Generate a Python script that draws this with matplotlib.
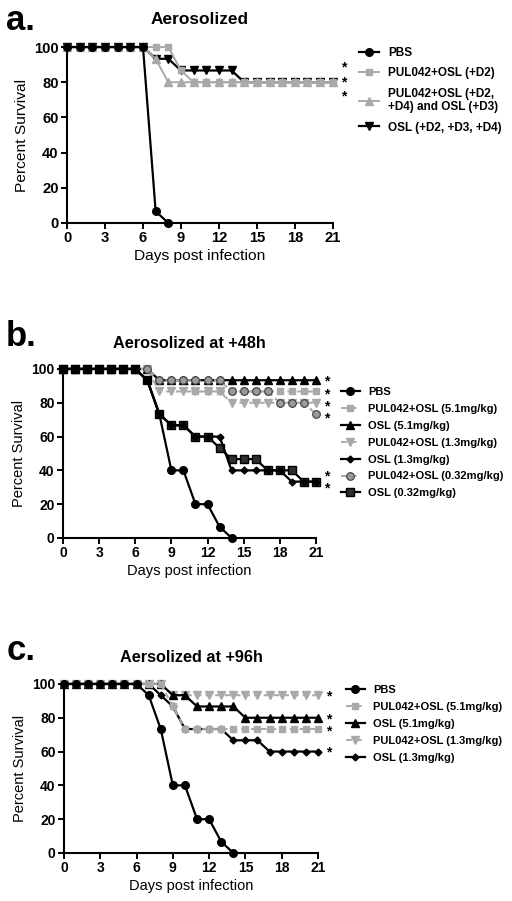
import matplotlib
matplotlib.use("Agg")
import matplotlib.pyplot as plt

plt.rcParams['font.family'] = ['Liberation Sans', 'DejaVu Sans']

# ---- panel a: aerosolized ----
a_days = [0, 1, 2, 3, 4, 5, 6, 7, 8, 9, 10, 11, 12, 13, 14, 15, 16, 17, 18, 19, 20, 21]
a_pbs_days = [0, 1, 2, 3, 4, 5, 6, 7, 8]
a_pbs = [100, 100, 100, 100, 100, 100, 100, 6.67, 0]
a_pul_d2 = [100, 100, 100, 100, 100, 100, 100, 100, 100, 86.67, 80, 80, 80, 80, 80, 80, 80, 80, 80, 80, 80, 80]
a_pul_d234 = [100, 100, 100, 100, 100, 100, 100, 93.33, 80, 80, 80, 80, 80, 80, 80, 80, 80, 80, 80, 80, 80, 80]
a_osl_d234 = [100, 100, 100, 100, 100, 100, 100, 93.33, 93.33, 86.67, 86.67, 86.67, 86.67, 86.67, 80, 80, 80, 80, 80, 80, 80, 80]
a_labels = ['PBS', 'PUL042+OSL (+D2)', 'PUL042+OSL (+D2,\n+D4) and OSL (+D3)', 'OSL (+D2, +D3, +D4)']

# ---- panel b: aerosolized at +48h ----
b_days = [0, 1, 2, 3, 4, 5, 6, 7, 8, 9, 10, 11, 12, 13, 14, 15, 16, 17, 18, 19, 20, 21]
b_pbs_days = [0, 1, 2, 3, 4, 5, 6, 7, 8, 9, 10, 11, 12, 13, 14]
b_pbs = [100, 100, 100, 100, 100, 100, 100, 93.33, 73.33, 40, 40, 20, 20, 6.67, 0]
b_pul_51 = [100, 100, 100, 100, 100, 100, 100, 100, 93.33, 93.33, 93.33, 86.67, 86.67, 86.67, 86.67, 86.67, 86.67, 86.67, 86.67, 86.67, 86.67, 86.67]
b_osl_51 = [100, 100, 100, 100, 100, 100, 100, 100, 93.33, 93.33, 93.33, 93.33, 93.33, 93.33, 93.33, 93.33, 93.33, 93.33, 93.33, 93.33, 93.33, 93.33]
b_pul_13 = [100, 100, 100, 100, 100, 100, 100, 100, 86.67, 86.67, 86.67, 86.67, 86.67, 86.67, 80, 80, 80, 80, 80, 80, 80, 80]
b_osl_13 = [100, 100, 100, 100, 100, 100, 100, 93.33, 73.33, 66.67, 66.67, 60, 60, 60, 40, 40, 40, 40, 40, 33.33, 33.33, 33.33]
b_pul_032 = [100, 100, 100, 100, 100, 100, 100, 100, 93.33, 93.33, 93.33, 93.33, 93.33, 93.33, 86.67, 86.67, 86.67, 86.67, 80, 80, 80, 73.33]
b_osl_032 = [100, 100, 100, 100, 100, 100, 100, 93.33, 73.33, 66.67, 66.67, 60, 60, 53.33, 46.67, 46.67, 46.67, 40, 40, 40, 33.33, 33.33]
b_labels = ['PBS', 'PUL042+OSL (5.1mg/kg)', 'OSL (5.1mg/kg)', 'PUL042+OSL (1.3mg/kg)',
            'OSL (1.3mg/kg)', 'PUL042+OSL (0.32mg/kg)', 'OSL (0.32mg/kg)']

# ---- panel c: aersolized at +96h ----
c_days = [0, 1, 2, 3, 4, 5, 6, 7, 8, 9, 10, 11, 12, 13, 14, 15, 16, 17, 18, 19, 20, 21]
c_pbs_days = [0, 1, 2, 3, 4, 5, 6, 7, 8, 9, 10, 11, 12, 13, 14]
c_pbs = [100, 100, 100, 100, 100, 100, 100, 93.33, 73.33, 40, 40, 20, 20, 6.67, 0]
c_pul_51 = [100, 100, 100, 100, 100, 100, 100, 100, 100, 86.67, 73.33, 73.33, 73.33, 73.33, 73.33, 73.33, 73.33, 73.33, 73.33, 73.33, 73.33, 73.33]
c_osl_51 = [100, 100, 100, 100, 100, 100, 100, 100, 100, 93.33, 93.33, 86.67, 86.67, 86.67, 86.67, 80, 80, 80, 80, 80, 80, 80]
c_pul_13 = [100, 100, 100, 100, 100, 100, 100, 100, 100, 93.33, 93.33, 93.33, 93.33, 93.33, 93.33, 93.33, 93.33, 93.33, 93.33, 93.33, 93.33, 93.33]
c_osl_13 = [100, 100, 100, 100, 100, 100, 100, 100, 93.33, 86.67, 73.33, 73.33, 73.33, 73.33, 66.67, 66.67, 66.67, 60, 60, 60, 60, 60]
c_labels = ['PBS', 'PUL042+OSL (5.1mg/kg)', 'OSL (5.1mg/kg)', 'PUL042+OSL (1.3mg/kg)', 'OSL (1.3mg/kg)']

GRAY = '#a9a9a9'
BLK = '#000000'

sty_pbs = dict(color=BLK, marker='o', ms=5.5, lw=1.6, mfc=BLK, mec=BLK)
sty_gsq = dict(color=GRAY, marker='s', ms=5, lw=1.4, mfc=GRAY, mec=GRAY)
sty_gsq_d = dict(sty_gsq, ls=(0, (3, 2)))
sty_gtu = dict(color=GRAY, marker='^', ms=5.5, lw=1.4, mfc=GRAY, mec=GRAY)
sty_btd = dict(color=BLK, marker='v', ms=5.5, lw=1.6, mfc=BLK, mec=BLK)
sty_btu = dict(color=BLK, marker='^', ms=5.5, lw=1.6, mfc=BLK, mec=BLK)
sty_gtd_d = dict(color=GRAY, marker='v', ms=5.5, lw=1.4, mfc=GRAY, mec=GRAY, ls=(0, (3, 2)))
sty_bdi = dict(color=BLK, marker='D', ms=3.5, lw=1.6, mfc=BLK, mec=BLK)
sty_gci_d = dict(color=GRAY, marker='o', ms=5.5, lw=1.4, mfc='#9a9a9a', mec='#3a3a3a', mew=0.8, ls=(0, (3, 2)))
sty_bsq = dict(color=BLK, marker='s', ms=6, lw=1.6, mfc='#2e2e2e', mec=BLK, mew=1.0)

fig = plt.figure(figsize=(5.12, 9.01), dpi=100)


def setup(ax, title, letter, letter_y, title_y, scale=1.0):
    ax.set_xlim(0, 21)
    ax.set_ylim(0, 100)
    ax.set_xticks([0, 3, 6, 9, 12, 15, 18, 21])
    ax.set_yticks([0, 20, 40, 60, 80, 100])
    for s in ['top', 'right']:
        ax.spines[s].set_visible(False)
    for s in ['left', 'bottom']:
        ax.spines[s].set_linewidth(1.5)
    ax.tick_params(width=1.4, length=4, labelsize=10 * scale, pad=2)
    for t in ax.get_xticklabels() + ax.get_yticklabels():
        t.set_fontweight('bold')
    ax.set_xlabel('Days post infection', fontsize=10.5 * scale, labelpad=3)
    ax.set_ylabel('Percent Survival', fontsize=10.5 * scale, labelpad=4)
    pos = ax.get_position()
    fig.text(pos.x0 + pos.width / 2, title_y, title,
             ha='center', va='center', fontsize=11.7 * scale, fontweight='bold')
    fig.text(0.012, letter_y, letter, ha='left', va='center', fontsize=25, fontweight='bold')


def stars(ax, y_top, n, gap):
    # a column of asterisks right of the last day
    ax.text(21.9, y_top, '\n'.join(['*'] * n), ha='center', va='top', fontsize=10,
            fontweight='bold', linespacing=gap, clip_on=False)


def legend(ax, handles, labels, x, y, size=8, spacing=0.62):
    ax.legend(handles, labels, loc='upper left', bbox_to_anchor=(x, y),
              bbox_transform=fig.transFigure, frameon=False, borderpad=0,
              borderaxespad=0, handlelength=1.7, handletextpad=0.75,
              labelspacing=spacing, prop=dict(weight='bold', size=size))


# panel a
ax1 = fig.add_axes([0.131, 0.7525, 0.519, 0.1953])
h_osl = ax1.plot(a_days, a_osl_d234, clip_on=False, zorder=3, **sty_btd)[0]
h_tri = ax1.plot(a_days, a_pul_d234, clip_on=False, zorder=4, **sty_gtu)[0]
h_sq = ax1.plot(a_days, a_pul_d2, clip_on=False, zorder=5, **sty_gsq)[0]
h_pbs = ax1.plot(a_pbs_days, a_pbs, clip_on=False, zorder=6, **sty_pbs)[0]
setup(ax1, 'Aerosolized', 'a.', 1 - 20 / 901, 1 - 19 / 901, scale=1.06)
stars(ax1, 92.5, 3, 1.07)
legend(ax1, [h_pbs, h_sq, h_tri, h_osl], a_labels, 359 / 512, 1 - 47 / 901, size=8.5, spacing=0.7)

# panel b
ax2 = fig.add_axes([0.123, 0.4029, 0.494, 0.1876])
hb = {}
hb['pul51'] = ax2.plot(b_days, b_pul_51, clip_on=False, zorder=3, **sty_gsq_d)[0]
hb['pul13'] = ax2.plot(b_days, b_pul_13, clip_on=False, zorder=3.5, **sty_gtd_d)[0]
hb['osl51'] = ax2.plot(b_days, b_osl_51, clip_on=False, zorder=3.2, **sty_btu)[0]
hb['pul032'] = ax2.plot(b_days, b_pul_032, clip_on=False, zorder=4, **sty_gci_d)[0]
hb['osl13'] = ax2.plot(b_days, b_osl_13, clip_on=False, zorder=4.5, **sty_bdi)[0]
hb['osl032'] = ax2.plot(b_days, b_osl_032, clip_on=False, zorder=4.4, **sty_bsq)[0]
hb['pbs'] = ax2.plot(b_pbs_days, b_pbs, clip_on=False, zorder=6, **sty_pbs)[0]
setup(ax2, 'Aerosolized at +48h', 'b.', 1 - 337 / 901, 1 - 343 / 901)
stars(ax2, 96.5, 4, 0.85)
stars(ax2, 40.5, 2, 0.85)
legend(ax2, [hb['pbs'], hb['pul51'], hb['osl51'], hb['pul13'], hb['osl13'], hb['pul032'], hb['osl032']],
       b_labels, 341 / 512, 1 - 387 / 901)

# panel c
ax3 = fig.add_axes([0.125, 0.0533, 0.496, 0.1876])
hc = {}
hc['pul13'] = ax3.plot(c_days, c_pul_13, clip_on=False, zorder=3, **sty_gtd_d)[0]
hc['osl51'] = ax3.plot(c_days, c_osl_51, clip_on=False, zorder=4, **sty_btu)[0]
hc['osl13'] = ax3.plot(c_days, c_osl_13, clip_on=False, zorder=4.2, **sty_bdi)[0]
hc['pul51'] = ax3.plot(c_days, c_pul_51, clip_on=False, zorder=4.5, **sty_gsq_d)[0]
hc['pbs'] = ax3.plot(c_pbs_days, c_pbs, clip_on=False, zorder=6, **sty_pbs)[0]
setup(ax3, 'Aersolized at +96h', 'c.', 1 - 650 / 901, 1 - 658 / 901)
stars(ax3, 96.5, 1, 0.85)
stars(ax3, 83.0, 2, 0.8)
stars(ax3, 63.5, 1, 0.85)
legend(ax3, [hc['pbs'], hc['pul51'], hc['osl51'], hc['pul13'], hc['osl13']],
       c_labels, 346 / 512, 1 - 685 / 901)

fig.savefig('out.png', dpi=100)
